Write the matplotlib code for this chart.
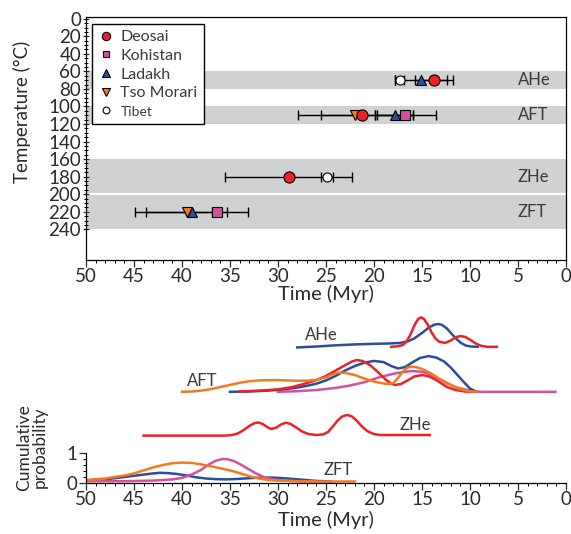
import matplotlib.pyplot as plt
from matplotlib.ticker import MultipleLocator, FixedLocator

plt.rcParams['font.family'] = ['Lato', 'DejaVu Sans']

# --- top panel: ages (Myr) at closure temperatures ---
band_temps = {'AHe': 70, 'AFT': 110, 'ZHe': 180, 'ZFT': 220}
bands = [(60, 80), (100, 120), (160, 200), (200, 240)]

# (system, age, err_old, err_young)
deosai = [('AHe', 13.75, 2.0, 2.0), ('AFT', 21.3, 6.6, 5.4), ('ZHe', 28.9, 6.6, 6.6)]
kohistan = [('AFT', 16.8, 3.1, 3.3), ('ZFT', 36.4, 0.5, 0.5)]
ladakh = [('AHe', 15.1, 2.7, 2.7), ('AFT', 17.8, 1.9, 1.9), ('ZFT', 39.0, 5.9, 5.9)]
tso_morari = [('AFT', 22.0, 3.5, 2.1), ('ZFT', 39.5, 4.2, 4.2)]
tibet = [('AHe', 17.3, 0.5, 0.4), ('ZHe', 24.9, 0.6, 0.6)]

# --- bottom panel: stacked probability curves (time, offset value) ---
ahe_blue_t = [28, 26, 24, 22, 20, 18.5, 17.3, 16.5, 15.8, 15.0, 14.3, 13.7, 13.3, 12.9, 12.4,
              11.9, 11.4, 10.9, 10.4, 9.9, 9.2]
ahe_blue_p = [4.52, 4.55, 4.59, 4.62, 4.64, 4.65, 4.67, 4.72, 4.82, 5.0, 5.18, 5.28, 5.3, 5.27,
              5.15, 4.97, 4.8, 4.66, 4.58, 4.55, 4.54]
ahe_red_t = [18.2, 17.5, 17.0, 16.6, 16.2, 15.8, 15.4, 15.1, 14.8, 14.4, 14.0, 13.6, 13.2, 12.6,
             12.0, 11.5, 11.0, 10.5, 10.0, 9.4, 8.8, 8.2, 7.2]
ahe_red_p = [4.54, 4.56, 4.6, 4.72, 4.95, 5.25, 5.47, 5.52, 5.47, 5.28, 5.02, 4.82, 4.71, 4.67,
             4.75, 4.86, 4.9, 4.87, 4.78, 4.65, 4.57, 4.54, 4.54]

aft_orange_t = [40, 39, 38, 37, 36, 35, 34, 33, 32, 31, 30, 29, 28, 27, 26, 25, 24.5, 24, 23.5,
                23, 22, 21, 20, 19, 18.5, 18, 17.5, 17, 16.5, 16.1, 15.6, 15.0, 14.2, 13.3,
                12.4, 11.6, 10.8, 10, 9.3]
aft_orange_p = [3.04, 3.05, 3.08, 3.13, 3.2, 3.27, 3.34, 3.39, 3.42, 3.43, 3.43, 3.42, 3.41,
                3.41, 3.44, 3.52, 3.6, 3.66, 3.68, 3.67, 3.6, 3.48, 3.38, 3.32, 3.3, 3.33, 3.5,
                3.72, 3.85, 3.88, 3.86, 3.8, 3.68, 3.5, 3.34, 3.2, 3.11, 3.06, 3.04]
aft_red_t = [34, 32, 30, 28.5, 27, 26, 25, 24, 23, 22.3, 21.8, 21.2, 20.4, 19.6, 18.8, 18.2,
             17.8, 17.2, 16.5, 15.8, 15.0, 14.3, 13.5, 12.4, 11.5, 10.5, 9.5]
aft_red_p = [3.05, 3.08, 3.12, 3.2, 3.33, 3.43, 3.57, 3.75, 3.93, 4.05, 4.1, 4.07, 3.93, 3.7,
             3.45, 3.31, 3.27, 3.3, 3.42, 3.55, 3.6, 3.56, 3.43, 3.2, 3.1, 3.05, 3.04]
aft_blue_t = [35, 33, 31, 29.5, 28, 27, 26, 25, 24, 23, 22, 21, 20, 19, 18.2, 17.5, 16.8, 16,
              15.2, 14.3, 13.5, 12.7, 12, 11.3, 10.6, 10, 9.3]
aft_blue_p = [3.04, 3.05, 3.08, 3.12, 3.18, 3.24, 3.31, 3.42, 3.57, 3.75, 3.9, 4.01, 4.07, 4.03,
              3.9, 3.82, 3.86, 4.02, 4.17, 4.23, 4.18, 4.05, 3.85, 3.6, 3.35, 3.15, 3.04]
aft_mag_t = [30, 28, 26, 24, 22.5, 21, 19.5, 18, 17, 16, 15, 14.2, 13.3, 12.4, 11.5, 10.7,
             9.8, 9, 1.1]
aft_mag_p = [3.04, 3.06, 3.1, 3.17, 3.25, 3.36, 3.52, 3.64, 3.7, 3.73, 3.71, 3.63, 3.48, 3.32,
             3.2, 3.13, 3.07, 3.04, 3.04]

zhe_red_t = [44, 35.5, 34.8, 34.2, 33.6, 33.0, 32.5, 32.1, 31.6, 31.1, 30.7, 30.2, 29.7, 29.2,
             28.7, 28.1, 27.5, 26.8, 26.0, 25.3, 24.8, 24.3, 23.8, 23.3, 22.8, 22.3, 21.8,
             21.3, 20.7, 20.0, 19.3, 14.2]
zhe_red_p = [1.58, 1.58, 1.6, 1.65, 1.76, 1.9, 1.99, 2.02, 1.97, 1.86, 1.8, 1.84, 1.95, 2.01,
             1.97, 1.85, 1.72, 1.63, 1.6, 1.62, 1.7, 1.88, 2.08, 2.22, 2.27, 2.22, 2.08, 1.9,
             1.73, 1.63, 1.6, 1.6]

zft_orange_t = [50, 48, 46, 45, 44, 43, 42, 41, 40, 39, 38, 37, 36, 35, 34, 33, 32, 31, 30,
                28, 26, 22]
zft_orange_p = [0.1, 0.15, 0.25, 0.32, 0.42, 0.52, 0.6, 0.66, 0.68, 0.67, 0.62, 0.56, 0.49,
                0.42, 0.33, 0.23, 0.15, 0.1, 0.08, 0.06, 0.05, 0.05]
zft_blue_t = [50, 48, 46, 44, 43, 42.3, 41.5, 40.5, 39.5, 38.5, 37.5, 36.5, 35.5, 34.5, 33.5,
              32.5, 31.5, 30.5, 29, 27.5, 26, 24.5]
zft_blue_p = [0.08, 0.12, 0.2, 0.28, 0.32, 0.34, 0.33, 0.3, 0.25, 0.19, 0.15, 0.13, 0.12, 0.13,
              0.15, 0.17, 0.18, 0.18, 0.15, 0.11, 0.07, 0.05]
zft_mag_t = [50, 46, 43, 41, 40, 39, 38, 37.2, 36.5, 35.8, 35.2, 34.5, 33.8, 33, 32.3, 31.5,
             30.5, 29.5, 28, 26]
zft_mag_p = [0.06, 0.06, 0.08, 0.12, 0.17, 0.28, 0.44, 0.62, 0.74, 0.8, 0.79, 0.72, 0.6, 0.45,
             0.32, 0.2, 0.12, 0.08, 0.06, 0.05]

RED = '#ec2227'
MAG = '#d54f9e'
BLUE = '#2c4d9e'
ORANGE = '#f47a20'
GREY_BAND = '#d0d1d3'
TXT = '#3a3a3a'
TICK = '#2a2a2a'

fig = plt.figure(figsize=(5.71, 5.34), dpi=100)
ax = fig.add_axes([0.1506, 0.5131, 0.8406, 0.4551])
ax2 = fig.add_axes([0.1506, 0.0955, 0.8406, 0.3258])

# top panel
for lo, hi in bands:
    ax.axhspan(lo, hi, color=GREY_BAND, lw=0, zorder=0)
ax.axhline(200, color='white', lw=1.5, zorder=0.5)
for name, temp in band_temps.items():
    ax.text(5.0, temp, name, ha='left', va='center', fontsize=12, color=TXT)


def plot_group(rows, marker, face, label, ms=7, edge='black'):
    for sys_, age, eo, ey in rows:
        ax.errorbar(age, band_temps[sys_], xerr=[[ey], [eo]], fmt='none',
                    ecolor='black', elinewidth=1, capsize=3.5, capthick=1, zorder=2)
    ax.plot([r[1] for r in rows], [band_temps[r[0]] for r in rows], ls='none',
            marker=marker, ms=ms, mfc=face, mec=edge, mew=0.8, zorder=3, label=label)


plot_group(tibet, 'o', 'white', 'Tibet', ms=6.5)
plot_group(kohistan, 's', MAG, 'Kohistan', ms=6.5)
plot_group(ladakh, '^', BLUE, 'Ladakh')
plot_group(tso_morari, 'v', ORANGE, 'Tso Morari')
plot_group(deosai, 'o', RED, 'Deosai', ms=8)

ax.set_xlim(50, 0)
ax.set_ylim(275, -2)
ax.xaxis.set_major_locator(MultipleLocator(5))
ax.xaxis.set_minor_locator(MultipleLocator(1))
ax.set_yticks(range(0, 241, 20))
ax.yaxis.set_minor_locator(FixedLocator([v for v in range(0, 241, 5) if v % 20]))
ax.tick_params(axis='both', which='major', labelsize=13.5, length=5, width=0.9, colors=TICK)
ax.tick_params(axis='both', which='minor', length=2.5, width=0.7)
ax.tick_params(axis='y', which='both', direction='inout')
ax.tick_params(axis='y', pad=1)
ax.tick_params(axis='x', pad=1)
ax.set_ylabel('Temperature (°C)', fontsize=13.5, color=TICK)
ax.yaxis.set_label_coords(-0.115, 0.61)
ax.set_xlabel('Time (Myr)', fontsize=14.5, color=TICK, labelpad=0)
for s in ax.spines.values():
    s.set_linewidth(0.9)

handles, labels = ax.get_legend_handles_labels()
order = ['Deosai', 'Kohistan', 'Ladakh', 'Tso Morari', 'Tibet']
hmap = dict(zip(labels, handles))
leg = ax.legend([hmap[k] for k in order], order, loc='upper left',
                bbox_to_anchor=(0.0125, 0.971), borderaxespad=0, fontsize=11.5,
                fancybox=False, framealpha=1, edgecolor='black', handlelength=1.0,
                handletextpad=0.4, labelspacing=0.28, borderpad=0.38, markerscale=0.75)
leg.get_frame().set_linewidth(1.0)
leg.get_texts()[4].set_fontsize(10)
for t in leg.get_texts():
    t.set_color(TXT)

# bottom panel
lw = 1.8
ax2.plot(ahe_blue_t, ahe_blue_p, color=BLUE, lw=lw)
ax2.plot(ahe_red_t, ahe_red_p, color=RED, lw=lw)
ax2.plot(aft_mag_t, aft_mag_p, color=MAG, lw=lw)
ax2.plot(aft_blue_t, aft_blue_p, color=BLUE, lw=lw)
ax2.plot(aft_red_t, aft_red_p, color=RED, lw=lw)
ax2.plot(aft_orange_t, aft_orange_p, color=ORANGE, lw=lw)
ax2.plot(zhe_red_t, zhe_red_p, color=RED, lw=lw)
ax2.plot(zft_blue_t, zft_blue_p, color=BLUE, lw=lw)
ax2.plot(zft_mag_t, zft_mag_p, color=MAG, lw=lw)
ax2.plot(zft_orange_t, zft_orange_p, color=ORANGE, lw=lw)

ax2.text(27.2, 4.93, 'AHe', fontsize=12, color=TXT, va='center')
ax2.text(39.5, 3.4, 'AFT', fontsize=12, color=TXT, va='center')
ax2.text(17.3, 1.92, 'ZHe', fontsize=12, color=TXT, va='center')
ax2.text(25.3, 0.45, 'ZFT', fontsize=12, color=TXT, va='center')

ax2.set_xlim(50, 0)
ax2.set_ylim(0, 5.8)
for s in ['top', 'right']:
    ax2.spines[s].set_visible(False)
ax2.spines['left'].set_bounds(0, 1)
ax2.spines['left'].set_linewidth(0.9)
ax2.spines['bottom'].set_linewidth(0.9)
ax2.set_yticks([0, 1])
ax2.yaxis.set_minor_locator(FixedLocator([0.2, 0.4, 0.6, 0.8]))
ax2.xaxis.set_major_locator(MultipleLocator(5))
ax2.xaxis.set_minor_locator(MultipleLocator(1))
ax2.tick_params(axis='both', which='major', labelsize=13.5, length=5, width=0.9, colors=TICK)
ax2.tick_params(axis='both', which='minor', length=2.5, width=0.7)
ax2.tick_params(axis='y', pad=1)
ax2.tick_params(axis='x', pad=1)
ax2.set_xlabel('Time (Myr)', fontsize=14.5, color=TICK, labelpad=2)
ax2.set_ylabel('Cumulative\nprobability', fontsize=12.5, color=TICK, linespacing=0.95)
ax2.yaxis.set_label_coords(-0.08, 0.205)

fig.savefig('out.png', dpi=100)
